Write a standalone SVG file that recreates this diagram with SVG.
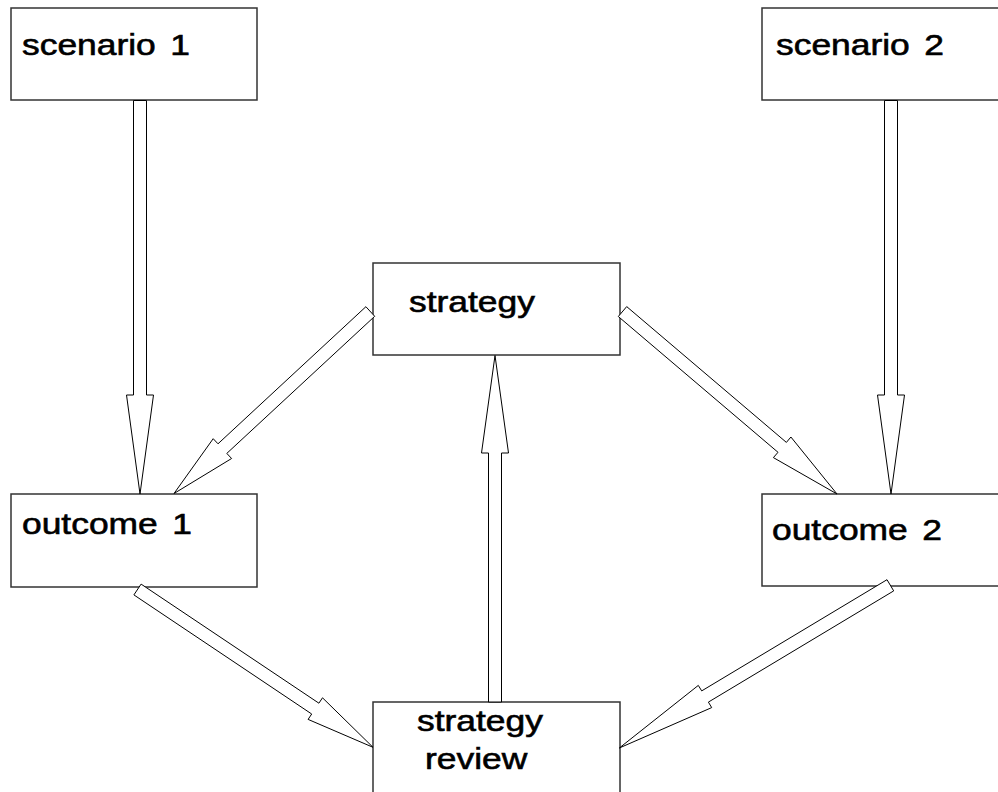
<svg xmlns="http://www.w3.org/2000/svg" width="998" height="792" viewBox="0 0 998 792">
<style>
.box{fill:#fff;stroke:#333;stroke-width:1.5}
.arr{fill:#fff;stroke:#000;stroke-width:1;stroke-linejoin:miter}
.lbl{font-family:"Liberation Sans",Arial,sans-serif;font-size:30px;fill:#000;stroke:#000;stroke-width:0.6;word-spacing:4px}
</style>
<rect width="998" height="792" fill="#fff"/>
<g id="scenario1"><rect class="box" x="11" y="8" width="246" height="92"/><text class="lbl" transform="translate(22,55) scale(1.18,1)">scenario 1</text></g>
<g id="scenario2"><rect class="box" x="762" y="8" width="246" height="92"/><text class="lbl" transform="translate(776,55) scale(1.18,1)">scenario 2</text></g>
<g id="strategy"><rect class="box" x="373" y="263" width="247" height="92"/><text class="lbl" transform="translate(409,312) scale(1.18,1)">strategy</text></g>
<g id="outcome1"><rect class="box" x="11" y="494" width="246" height="93"/><text class="lbl" transform="translate(22,534) scale(1.18,1)">outcome 1</text></g>
<g id="outcome2"><rect class="box" x="762" y="494" width="246" height="92"/><text class="lbl" transform="translate(772,540) scale(1.18,1)">outcome 2</text></g>
<g id="strategy-review"><rect class="box" x="373" y="702" width="247" height="94"/><text class="lbl" transform="translate(417,731) scale(1.18,1)">strategy</text><text class="lbl" transform="translate(425,769) scale(1.18,1)">review</text></g>
<g id="connectors">
<polygon class="arr" points="133.5,100.5 133.5,395 126.5,395 140,494 153.5,395 146.5,395 146.5,100.5"/>
<polygon class="arr" points="884.5,100.5 884.5,395 877.5,395 891,494 904.5,395 897.5,395 897.5,100.5"/>
<polygon class="arr" points="488.5,702 488.5,453 481.5,453 495,355.5 508.5,453 501.5,453 501.5,702"/>
<polygon class="arr" points="374.7,316.3 226.8,453.4 231.6,458.5 174,493.5 213.2,438.7 218,443.8 365.9,306.7"/>
<polygon class="arr" points="626.7,306.6 786.4,442.4 790.9,437 837,494 773.4,457.6 778,452.3 618.3,316.5"/>
<polygon class="arr" points="141.1,584.1 318.9,703.2 322.5,697.8 373,747.3 308.1,719.4 311.7,714 133.9,594.9"/>
<polygon class="arr" points="893.7,590.9 708.4,702.1 711.7,707.6 619.3,748 698.3,685.4 701.7,690.9 887,579.7"/>
</g>
</svg>
